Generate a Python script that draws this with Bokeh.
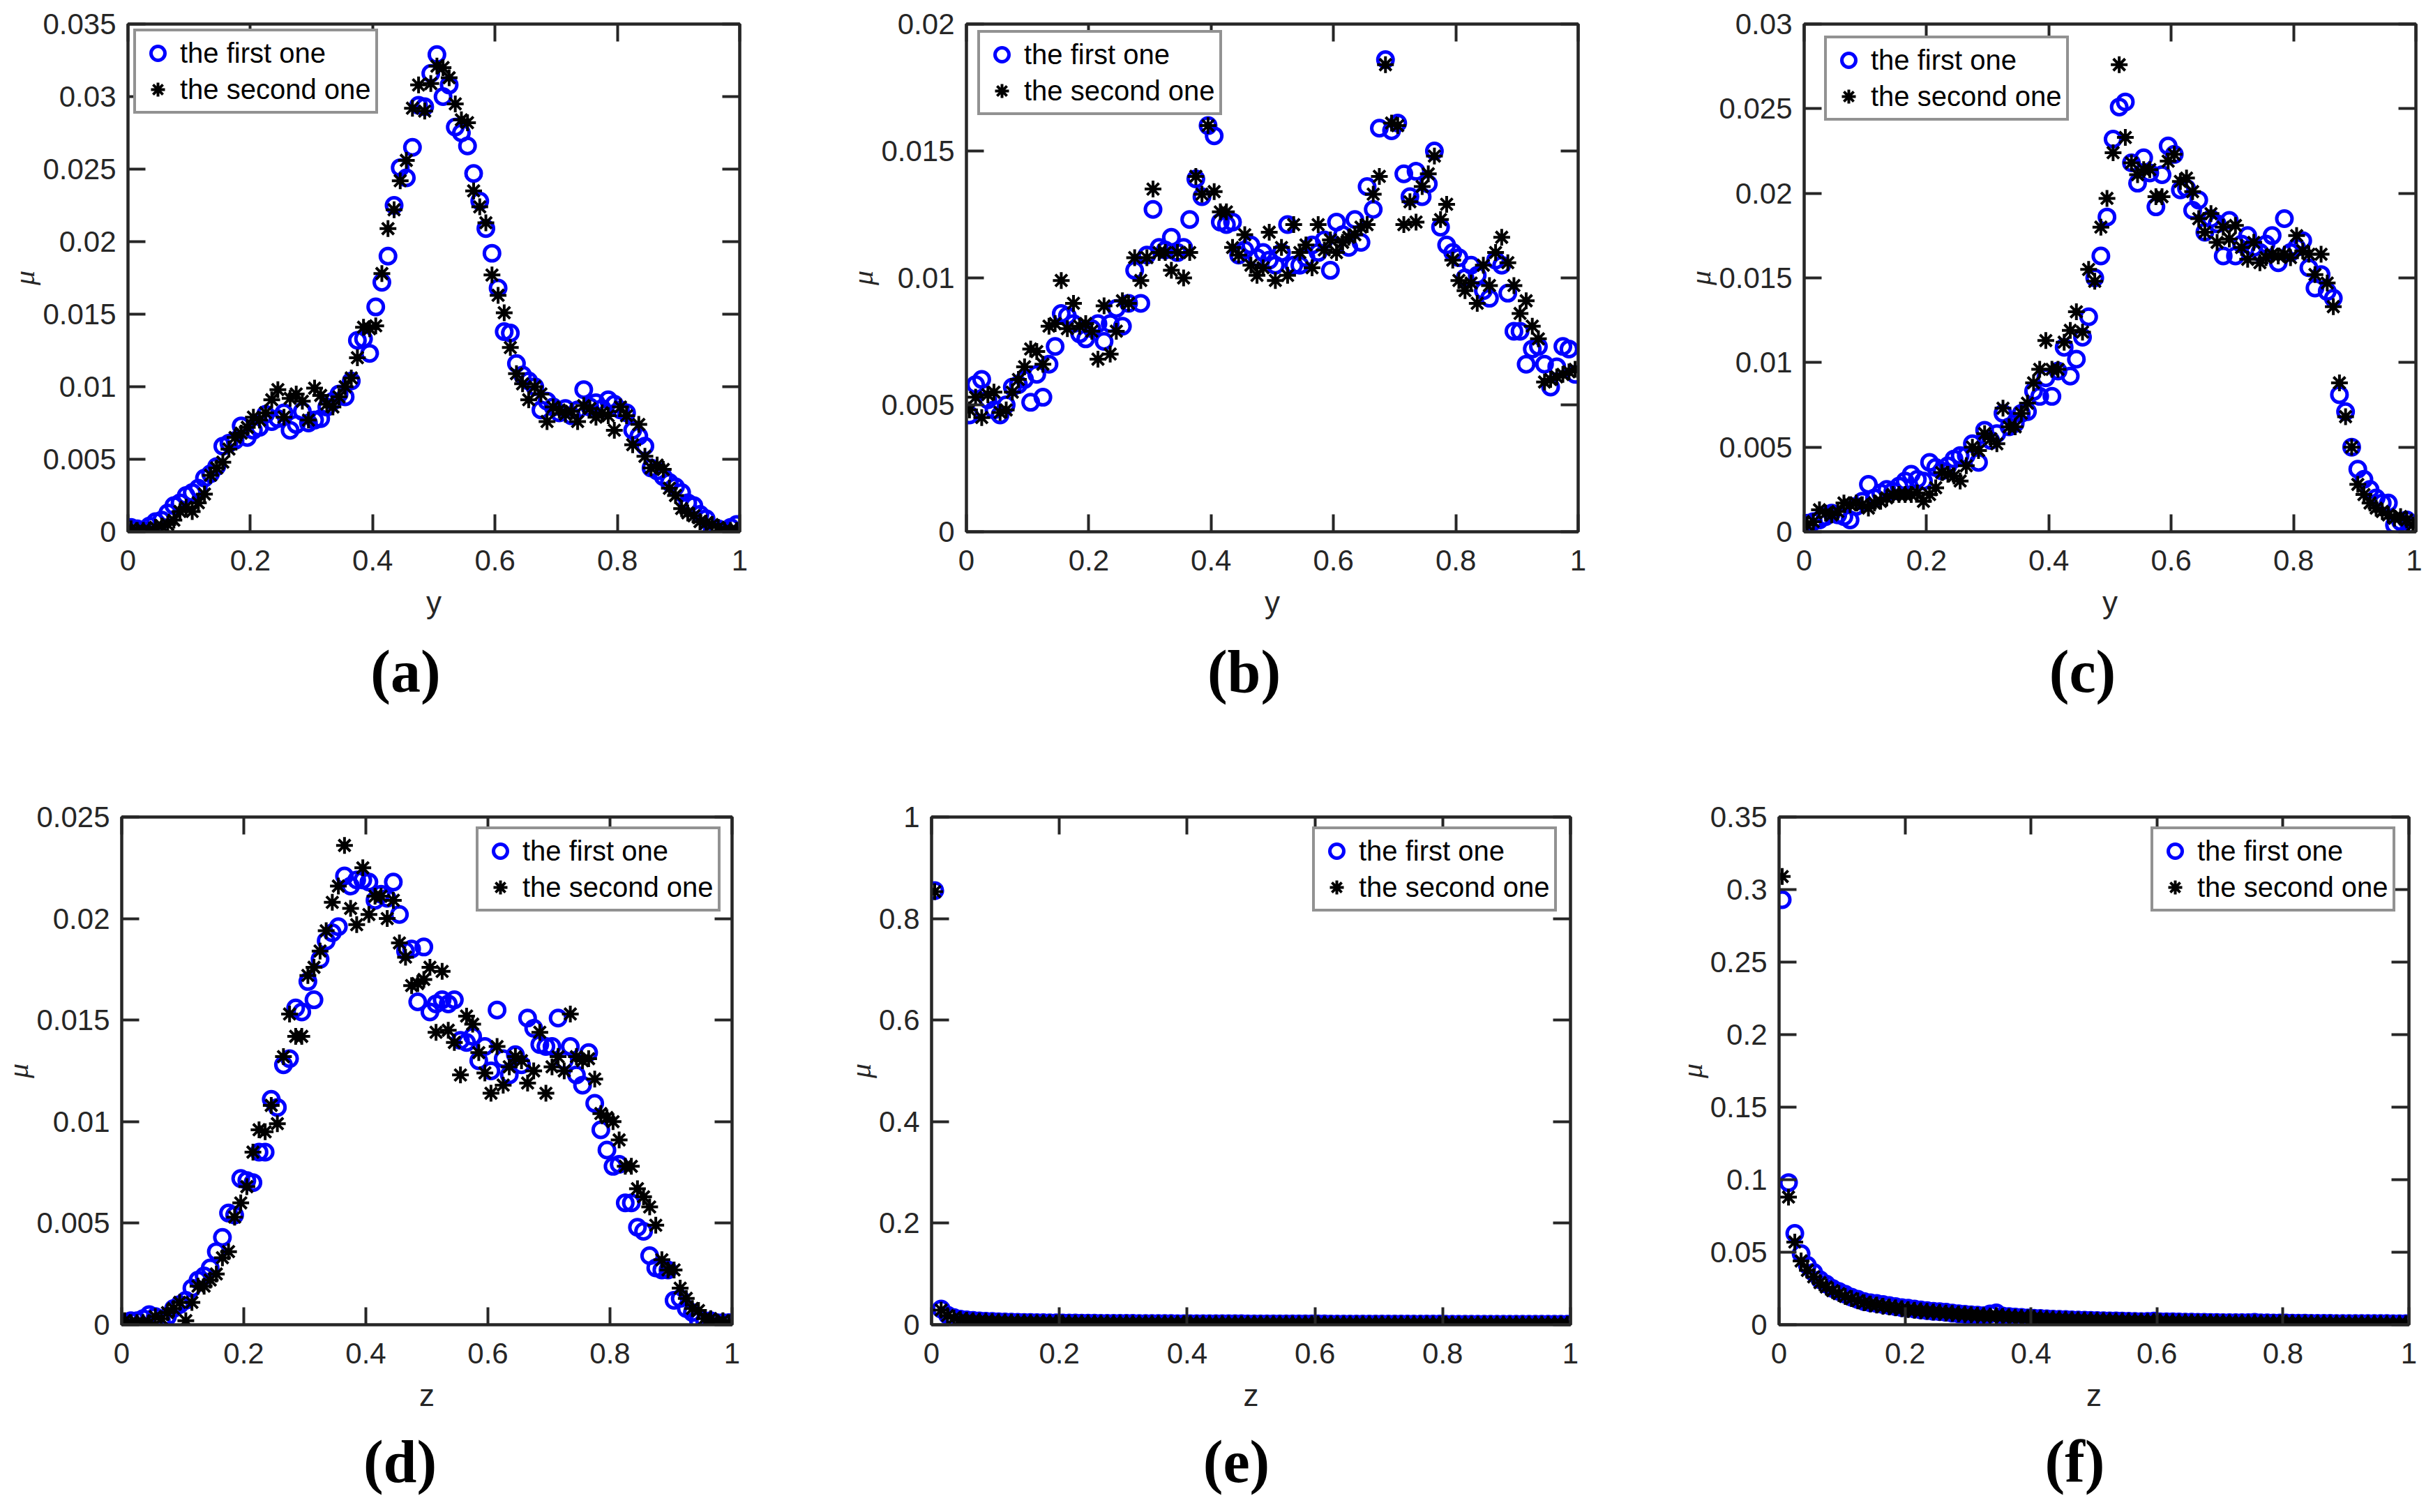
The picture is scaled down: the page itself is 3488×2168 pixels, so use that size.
from bokeh.plotting import figure
from bokeh.layouts import column, row
from bokeh.models import Range1d, FixedTicker, LinearAxis, Legend, LegendItem, Title
from bokeh.embed import file_html
from bokeh.resources import INLINE

# ---------------- data ----------------
N_POINTS = 100
X_GRID = [round(0.005 + 0.01 * i, 3) for i in range(N_POINTS)]

LABEL_FIRST = "the first one"
LABEL_SECOND = "the second one"

# (a)
A_FIRST = [0.0003, 0.0002, 0.0001, 0.0004, 0.0007, 0.0008, 0.0013, 0.0018, 0.0020, 0.0025,
           0.0027, 0.0030, 0.0037, 0.0040, 0.0045, 0.0059, 0.0061, 0.0063, 0.0073, 0.0065,
           0.0070, 0.0072, 0.0081, 0.0076, 0.0078, 0.0082, 0.0070, 0.0074, 0.0083, 0.0075,
           0.0077, 0.0078, 0.0086, 0.0090, 0.0095, 0.0093, 0.0104, 0.0132, 0.0133, 0.0123,
           0.0155, 0.0172, 0.0190, 0.0225, 0.0251, 0.0244, 0.0265, 0.0294, 0.0293, 0.0316,
           0.0329, 0.0300, 0.0308, 0.0279, 0.0275, 0.0266, 0.0247, 0.0228, 0.0209, 0.0192,
           0.0168, 0.0138, 0.0137, 0.0116, 0.0108, 0.0104, 0.0100, 0.0084, 0.0090, 0.0086,
           0.0082, 0.0085, 0.0080, 0.0084, 0.0098, 0.0086, 0.0089, 0.0085, 0.0091, 0.0088,
           0.0084, 0.0082, 0.0070, 0.0066, 0.0059, 0.0044, 0.0042, 0.0038, 0.0034, 0.0031,
           0.0027, 0.0020, 0.0018, 0.0012, 0.0009, 0.0001, 0.0002, 0.0001, 0.0003, 0.0005]
A_SECOND = [0.0002, 0.0001, 0.0001, 0.0001, 0.0003, 0.0004, 0.0005, 0.0008, 0.0014, 0.0017,
            0.0014, 0.0020, 0.0026, 0.0039, 0.0044, 0.0048, 0.0057, 0.0065, 0.0068, 0.0072,
            0.0079, 0.0077, 0.0082, 0.0091, 0.0098, 0.0079, 0.0092, 0.0095, 0.0090, 0.0077,
            0.0099, 0.0094, 0.0088, 0.0086, 0.0093, 0.0100, 0.0106, 0.0120, 0.0141, 0.0140,
            0.0142, 0.0178, 0.0209, 0.0222, 0.0242, 0.0256, 0.0292, 0.0308, 0.0290, 0.0309,
            0.0321, 0.0320, 0.0313, 0.0295, 0.0284, 0.0282, 0.0235, 0.0224, 0.0213, 0.0177,
            0.0163, 0.0151, 0.0127, 0.0109, 0.0102, 0.0091, 0.0100, 0.0095, 0.0076, 0.0086,
            0.0084, 0.0081, 0.0083, 0.0076, 0.0087, 0.0085, 0.0079, 0.0082, 0.0080, 0.0070,
            0.0086, 0.0080, 0.0060, 0.0074, 0.0052, 0.0044, 0.0046, 0.0043, 0.0030, 0.0025,
            0.0016, 0.0013, 0.0011, 0.0007, 0.0006, 0.0005, 0.0003, 0.0001, 0.0001, 0.0001]

# (b)
B_FIRST = [0.0046, 0.0058, 0.0060, 0.0052, 0.0048, 0.0046, 0.0050, 0.0057, 0.0058, 0.0060,
           0.0051, 0.0062, 0.0053, 0.0066, 0.0073, 0.0086, 0.0085, 0.0082, 0.0078, 0.0076,
           0.0080, 0.0082, 0.0075, 0.0082, 0.0088, 0.0081, 0.0090, 0.0103, 0.0090, 0.0109,
           0.0127, 0.0112, 0.0111, 0.0116, 0.0110, 0.0112, 0.0123, 0.0139, 0.0132, 0.0160,
           0.0156, 0.0122, 0.0121, 0.0122, 0.0109, 0.0111, 0.0113, 0.0108, 0.0110, 0.0107,
           0.0105, 0.0110, 0.0121, 0.0105, 0.0105, 0.0108, 0.0113, 0.0110, 0.0115, 0.0103,
           0.0122, 0.0117, 0.0112, 0.0123, 0.0114, 0.0136, 0.0127, 0.0159, 0.0186, 0.0158,
           0.0161, 0.0141, 0.0132, 0.0142, 0.0132, 0.0137, 0.0150, 0.0120, 0.0113, 0.0110,
           0.0108, 0.0100, 0.0105, 0.0101, 0.0095, 0.0092, 0.0107, 0.0105, 0.0094, 0.0079,
           0.0079, 0.0066, 0.0072, 0.0073, 0.0066, 0.0057, 0.0065, 0.0073, 0.0072, 0.0062]
B_SECOND = [0.0048, 0.0053, 0.0045, 0.0054, 0.0055, 0.0047, 0.0048, 0.0055, 0.0060, 0.0065,
            0.0072, 0.0071, 0.0066, 0.0081, 0.0082, 0.0099, 0.0080, 0.0090, 0.0081, 0.0082,
            0.0079, 0.0068, 0.0089, 0.0070, 0.0079, 0.0091, 0.0090, 0.0108, 0.0099, 0.0108,
            0.0135, 0.0110, 0.0110, 0.0103, 0.0110, 0.0100, 0.0110, 0.0140, 0.0133, 0.0160,
            0.0134, 0.0126, 0.0126, 0.0112, 0.0109, 0.0117, 0.0105, 0.0101, 0.0104, 0.0118,
            0.0099, 0.0112, 0.0101, 0.0121, 0.0110, 0.0113, 0.0104, 0.0121, 0.0111, 0.0115,
            0.0110, 0.0114, 0.0116, 0.0117, 0.0120, 0.0121, 0.0133, 0.0140, 0.0184, 0.0161,
            0.0160, 0.0121, 0.0130, 0.0122, 0.0136, 0.0141, 0.0148, 0.0123, 0.0129, 0.0107,
            0.0099, 0.0095, 0.0098, 0.0090, 0.0105, 0.0097, 0.0110, 0.0116, 0.0106, 0.0097,
            0.0086, 0.0091, 0.0081, 0.0076, 0.0059, 0.0060, 0.0061, 0.0062, 0.0063, 0.0064]

# (c)
C_FIRST = [0.0005, 0.0006, 0.0007, 0.0009, 0.0011, 0.0010, 0.0009, 0.0007, 0.0015, 0.0018,
           0.0028, 0.0020, 0.0023, 0.0025, 0.0024, 0.0027, 0.0030, 0.0034, 0.0031, 0.0030,
           0.0041, 0.0038, 0.0036, 0.0039, 0.0043, 0.0045, 0.0045, 0.0052, 0.0041, 0.0060,
           0.0054, 0.0058, 0.0070, 0.0062, 0.0064, 0.0070, 0.0071, 0.0083, 0.0080, 0.0091,
           0.0080, 0.0095, 0.0109, 0.0092, 0.0102, 0.0115, 0.0127, 0.0150, 0.0163, 0.0186,
           0.0232, 0.0251, 0.0254, 0.0218, 0.0206, 0.0221, 0.0212, 0.0192, 0.0211, 0.0228,
           0.0223, 0.0202, 0.0203, 0.0190, 0.0196, 0.0177, 0.0185, 0.0182, 0.0163, 0.0184,
           0.0163, 0.0170, 0.0175, 0.0168, 0.0165, 0.0170, 0.0175, 0.0159, 0.0185, 0.0165,
           0.0168, 0.0172, 0.0156, 0.0144, 0.0152, 0.0142, 0.0138, 0.0081, 0.0071, 0.0050,
           0.0037, 0.0031, 0.0025, 0.0020, 0.0017, 0.0017, 0.0004, 0.0006, 0.0007, 0.0004]
C_SECOND = [0.0004, 0.0006, 0.0013, 0.0011, 0.0010, 0.0012, 0.0017, 0.0016, 0.0017, 0.0016,
            0.0014, 0.0017, 0.0018, 0.0020, 0.0022, 0.0022, 0.0022, 0.0022, 0.0023, 0.0018,
            0.0022, 0.0026, 0.0035, 0.0034, 0.0033, 0.0030, 0.0039, 0.0050, 0.0048, 0.0058,
            0.0055, 0.0052, 0.0073, 0.0062, 0.0062, 0.0070, 0.0076, 0.0088, 0.0096, 0.0113,
            0.0096, 0.0096, 0.0112, 0.0119, 0.0130, 0.0118, 0.0155, 0.0148, 0.0180, 0.0197,
            0.0224, 0.0276, 0.0233, 0.0218, 0.0211, 0.0214, 0.0214, 0.0198, 0.0198, 0.0219,
            0.0223, 0.0207, 0.0209, 0.0201, 0.0185, 0.0177, 0.0188, 0.0171, 0.0180, 0.0173,
            0.0181, 0.0168, 0.0161, 0.0171, 0.0159, 0.0162, 0.0164, 0.0163, 0.0164, 0.0162,
            0.0175, 0.0166, 0.0164, 0.0152, 0.0164, 0.0147, 0.0133, 0.0088, 0.0068, 0.0050,
            0.0028, 0.0022, 0.0017, 0.0014, 0.0012, 0.0010, 0.0008, 0.0009, 0.0007, 0.0004]

# (d)
D_FIRST = [0.0001, 0.0002, 0.0002, 0.0003, 0.0005, 0.0004, 0.0002, 0.0004, 0.0008, 0.0010,
           0.0012, 0.0018, 0.0022, 0.0024, 0.0028, 0.0036, 0.0043, 0.0055, 0.0054, 0.0072,
           0.0071, 0.0070, 0.0085, 0.0085, 0.0111, 0.0107, 0.0128, 0.0131, 0.0156, 0.0154,
           0.0169, 0.0160, 0.0180, 0.0189, 0.0193, 0.0196, 0.0221, 0.0216, 0.0219, 0.0219,
           0.0218, 0.0209, 0.0212, 0.0210, 0.0218, 0.0202, 0.0184, 0.0185, 0.0159, 0.0186,
           0.0154, 0.0158, 0.0160, 0.0158, 0.0160, 0.0140, 0.0139, 0.0142, 0.0130, 0.0137,
           0.0125, 0.0155, 0.0131, 0.0123, 0.0133, 0.0128, 0.0151, 0.0146, 0.0138, 0.0137,
           0.0137, 0.0151, 0.0130, 0.0137, 0.0123, 0.0118, 0.0134, 0.0109, 0.0096, 0.0086,
           0.0078, 0.0079, 0.0060, 0.0060, 0.0048, 0.0046, 0.0034, 0.0028, 0.0027, 0.0027,
           0.0012, 0.0013, 0.0008, 0.0006, 0.0002, 0.0002, 0.0002, 0.0001, 0.0001, 0.0001]
D_SECOND = [0.0002, 0.0001, 0.0001, 0.0001, 0.0001, 0.0004, 0.0003, 0.0006, 0.0008, 0.0011,
            0.0002, 0.0011, 0.0019, 0.0019, 0.0022, 0.0025, 0.0033, 0.0036, 0.0053, 0.0060,
            0.0068, 0.0085, 0.0096, 0.0095, 0.0108, 0.0099, 0.0132, 0.0153, 0.0142, 0.0142,
            0.0172, 0.0176, 0.0184, 0.0194, 0.0208, 0.0216, 0.0236, 0.0205, 0.0197, 0.0225,
            0.0202, 0.0211, 0.0211, 0.0200, 0.0209, 0.0188, 0.0181, 0.0167, 0.0168, 0.0170,
            0.0176, 0.0144, 0.0174, 0.0145, 0.0139, 0.0123, 0.0152, 0.0148, 0.0134, 0.0124,
            0.0114, 0.0137, 0.0118, 0.0127, 0.0132, 0.0130, 0.0119, 0.0125, 0.0144, 0.0114,
            0.0127, 0.0132, 0.0125, 0.0153, 0.0132, 0.0130, 0.0131, 0.0121, 0.0104, 0.0102,
            0.0100, 0.0091, 0.0078, 0.0078, 0.0067, 0.0063, 0.0058, 0.0049, 0.0032, 0.0027,
            0.0027, 0.0018, 0.0013, 0.0008, 0.0007, 0.0003, 0.0003, 0.0001, 0.0002, 0.0001]

# (e)
E_FIRST = [0.855, 0.031, 0.019, 0.014, 0.011, 0.0095, 0.0085, 0.0076, 0.0070, 0.0065,
           0.0060, 0.0056, 0.0052, 0.0049, 0.0046, 0.0044, 0.0042, 0.0040, 0.0038, 0.0037,
           0.0035, 0.0034, 0.0033, 0.0032, 0.0031, 0.0030, 0.0029, 0.0029, 0.0028, 0.0027,
           0.0027, 0.0026, 0.0025, 0.0025, 0.0024, 0.0024, 0.0023, 0.0023, 0.0022, 0.0022,
           0.0021, 0.0021, 0.0021, 0.0020, 0.0020, 0.0020, 0.0019, 0.0019, 0.0019, 0.0018,
           0.0018, 0.0018, 0.0018, 0.0017, 0.0017, 0.0017, 0.0017, 0.0016, 0.0016, 0.0016,
           0.0016, 0.0016, 0.0015, 0.0015, 0.0015, 0.0015, 0.0015, 0.0014, 0.0014, 0.0014,
           0.0014, 0.0014, 0.0014, 0.0013, 0.0013, 0.0013, 0.0013, 0.0013, 0.0013, 0.0013,
           0.0012, 0.0012, 0.0012, 0.0012, 0.0012, 0.0012, 0.0012, 0.0012, 0.0011, 0.0011,
           0.0011, 0.0011, 0.0011, 0.0011, 0.0011, 0.0011, 0.0011, 0.0010, 0.0010, 0.0010]
E_SECOND = [0.853, 0.029, 0.018, 0.013, 0.0105, 0.0090, 0.0080, 0.0073, 0.0067, 0.0062,
            0.0058, 0.0054, 0.0050, 0.0047, 0.0045, 0.0043, 0.0041, 0.0039, 0.0037, 0.0036,
            0.0034, 0.0033, 0.0032, 0.0031, 0.0030, 0.0029, 0.0029, 0.0028, 0.0027, 0.0027,
            0.0026, 0.0025, 0.0025, 0.0024, 0.0024, 0.0023, 0.0023, 0.0022, 0.0022, 0.0021,
            0.0021, 0.0021, 0.0020, 0.0020, 0.0020, 0.0019, 0.0019, 0.0019, 0.0018, 0.0018,
            0.0018, 0.0018, 0.0017, 0.0017, 0.0017, 0.0017, 0.0016, 0.0016, 0.0016, 0.0016,
            0.0016, 0.0015, 0.0015, 0.0015, 0.0015, 0.0015, 0.0014, 0.0014, 0.0014, 0.0014,
            0.0014, 0.0014, 0.0013, 0.0013, 0.0013, 0.0013, 0.0013, 0.0013, 0.0013, 0.0012,
            0.0012, 0.0012, 0.0012, 0.0012, 0.0012, 0.0012, 0.0012, 0.0011, 0.0011, 0.0011,
            0.0011, 0.0011, 0.0011, 0.0011, 0.0011, 0.0011, 0.0010, 0.0010, 0.0010, 0.0010]

# (f)
F_FIRST = [0.293, 0.098, 0.063, 0.049, 0.041, 0.036, 0.031, 0.028, 0.025, 0.023,
           0.021, 0.019, 0.0175, 0.016, 0.0152, 0.0147, 0.0140, 0.0132, 0.0125, 0.0118,
           0.0114, 0.0108, 0.0102, 0.0097, 0.0093, 0.0090, 0.0086, 0.0080, 0.0076, 0.0072,
           0.0069, 0.0066, 0.0063, 0.0075, 0.0082, 0.0060, 0.0056, 0.0053, 0.0050, 0.0047,
           0.0045, 0.0043, 0.0041, 0.0039, 0.0037, 0.0036, 0.0034, 0.0033, 0.0031, 0.0030,
           0.0029, 0.0028, 0.0027, 0.0026, 0.0025, 0.0024, 0.0023, 0.0022, 0.0023, 0.0025,
           0.0021, 0.0020, 0.0020, 0.0019, 0.0018, 0.0018, 0.0017, 0.0017, 0.0016, 0.0016,
           0.0015, 0.0015, 0.0014, 0.0014, 0.0015, 0.0017, 0.0013, 0.0013, 0.0012, 0.0012,
           0.0012, 0.0011, 0.0011, 0.0011, 0.0010, 0.0010, 0.0010, 0.0010, 0.0009, 0.0009,
           0.0009, 0.0009, 0.0008, 0.0008, 0.0008, 0.0008, 0.0008, 0.0007, 0.0007, 0.0007]
F_SECOND = [0.309, 0.088, 0.057, 0.044, 0.0375, 0.033, 0.029, 0.026, 0.0235, 0.0215,
            0.0195, 0.018, 0.0165, 0.0152, 0.0143, 0.0136, 0.0128, 0.0122, 0.0116, 0.0110,
            0.0105, 0.0100, 0.0096, 0.0092, 0.0088, 0.0085, 0.0081, 0.0078, 0.0074, 0.0071,
            0.0068, 0.0065, 0.0062, 0.0060, 0.0063, 0.0058, 0.0055, 0.0052, 0.0050, 0.0048,
            0.0046, 0.0044, 0.0042, 0.0040, 0.0038, 0.0037, 0.0035, 0.0034, 0.0033, 0.0031,
            0.0030, 0.0029, 0.0028, 0.0027, 0.0026, 0.0025, 0.0024, 0.0024, 0.0023, 0.0022,
            0.0021, 0.0021, 0.0020, 0.0019, 0.0019, 0.0018, 0.0018, 0.0017, 0.0017, 0.0016,
            0.0016, 0.0015, 0.0015, 0.0014, 0.0014, 0.0014, 0.0013, 0.0013, 0.0013, 0.0012,
            0.0012, 0.0012, 0.0011, 0.0011, 0.0011, 0.0010, 0.0010, 0.0010, 0.0010, 0.0009,
            0.0009, 0.0009, 0.0009, 0.0008, 0.0008, 0.0008, 0.0008, 0.0007, 0.0007, 0.0007]

# ticks
X_TICKS = [0, 0.2, 0.4, 0.6, 0.8, 1]
X_TICK_LABELS = ["0", "0.2", "0.4", "0.6", "0.8", "1"]
Y_TICKS_A = [0, 0.005, 0.01, 0.015, 0.02, 0.025, 0.03, 0.035]
Y_LABELS_A = ["0", "0.005", "0.01", "0.015", "0.02", "0.025", "0.03", "0.035"]
Y_TICKS_B = [0, 0.005, 0.01, 0.015, 0.02]
Y_LABELS_B = ["0", "0.005", "0.01", "0.015", "0.02"]
Y_TICKS_C = [0, 0.005, 0.01, 0.015, 0.02, 0.025, 0.03]
Y_LABELS_C = ["0", "0.005", "0.01", "0.015", "0.02", "0.025", "0.03"]
Y_TICKS_D = [0, 0.005, 0.01, 0.015, 0.02, 0.025]
Y_LABELS_D = ["0", "0.005", "0.01", "0.015", "0.02", "0.025"]
Y_TICKS_E = [0, 0.2, 0.4, 0.6, 0.8, 1]
Y_LABELS_E = ["0", "0.2", "0.4", "0.6", "0.8", "1"]
Y_TICKS_F = [0, 0.05, 0.1, 0.15, 0.2, 0.25, 0.3, 0.35]
Y_LABELS_F = ["0", "0.05", "0.1", "0.15", "0.2", "0.25", "0.3", "0.35"]

X_LABELS = {"a": "y", "b": "y", "c": "y", "d": "z", "e": "z", "f": "z"}
Y_LABEL = "μ"
CAPTIONS = {"a": "(a)", "b": "(b)", "c": "(c)", "d": "(d)", "e": "(e)", "f": "(f)"}

# ---------------- layout / style ----------------
AX_COLOR = "#262626"
FRAME_H = 728
CAP_SIZE = 86
CAP_W = {"a": 0.5, "b": 0.556, "c": 0.444, "d": 0.556, "e": 0.444, "f": 0.333}

# key, series, ticks, ymax, width, height, left, right, top, legend(left, top),
# caption centre, caption standoff
SPECS = [
    ("a", A_FIRST, A_SECOND, Y_TICKS_A, Y_LABELS_A, 0.035, 1200, 1108, 183, 140, 34, (8, 15), 398, 45),
    ("b", B_FIRST, B_SECOND, Y_TICKS_B, Y_LABELS_B, 0.02, 1200, 1108, 185, 138, 34, (16, 17), 398, 45),
    ("c", C_FIRST, C_SECOND, Y_TICKS_C, Y_LABELS_C, 0.03, 1072, 1108, 186, 9, 34, (29, 25), 399, 45),
    ("d", D_FIRST, D_SECOND, Y_TICKS_D, Y_LABELS_D, 0.025, 1180, 1060, 171, 131, 63, (508, 22), 399, 36),
    ("e", E_FIRST, E_SECOND, Y_TICKS_E, Y_LABELS_E, 1.0, 1210, 1060, 155, 139, 63, (546, 22), 437, 36),
    ("f", F_FIRST, F_SECOND, Y_TICKS_F, Y_LABELS_F, 0.35, 1082, 1060, 160, 19, 63, (533, 22), 424, 36),
]

LEG_PAD = 6
LEG_ROW = 50
LEG_SPACING = 2
LEG_H = 2 * LEG_PAD + 2 * LEG_ROW + LEG_SPACING


def style_axis(ax, ticks, labels, show_labels=True):
    ax.ticker = FixedTicker(ticks=ticks)
    ax.major_tick_in = 25
    ax.major_tick_out = 0
    ax.minor_tick_in = 0
    ax.minor_tick_out = 0
    ax.major_tick_line_color = AX_COLOR
    ax.major_tick_line_width = 4
    ax.axis_line_color = AX_COLOR
    ax.axis_line_width = 4
    if show_labels:
        ax.major_label_overrides = {t: s for t, s in zip(ticks, labels)}
        ax.major_label_text_font = "Liberation Sans"
        ax.major_label_text_color = AX_COLOR
        ax.major_label_text_font_size = "42px"
    else:
        ax.major_label_text_color = None
        ax.major_label_text_font_size = "0px"
        ax.major_label_standoff = 0


def make_panel(spec):
    (key, s1, s2, yt, yl, ymax, W, H, L, R, T, leg, cap_c, cap_s) = spec
    B = H - T - FRAME_H
    p = figure(width=W, height=H, x_range=Range1d(0, 1), y_range=Range1d(0, ymax),
               output_backend="svg", toolbar_location=None,
               min_border_left=L, min_border_right=R, min_border_top=T, min_border_bottom=B)
    p.grid.visible = False
    p.outline_line_color = AX_COLOR
    p.outline_line_width = 4
    p.background_fill_color = "white"
    p.border_fill_color = "white"

    xa = p.xaxis[0]
    style_axis(xa, X_TICKS, X_TICK_LABELS)
    xa.major_label_standoff = 26
    xa.axis_label = X_LABELS[key]
    xa.axis_label_text_font = "Liberation Sans"
    xa.axis_label_text_font_style = "normal"
    xa.axis_label_text_font_size = "44px"
    xa.axis_label_text_color = AX_COLOR
    xa.axis_label_standoff = 18

    ya = p.yaxis[0]
    style_axis(ya, yt, yl)
    ya.major_label_standoff = 17
    ya.axis_label = Y_LABEL
    ya.axis_label_text_font = "Liberation Serif"
    ya.axis_label_text_font_style = "italic"
    ya.axis_label_text_font_size = "42px"
    ya.axis_label_text_color = AX_COLOR
    ya.axis_label_standoff = 0

    top = LinearAxis()
    style_axis(top, X_TICKS, X_TICK_LABELS, show_labels=False)
    p.add_layout(top, "above")
    right = LinearAxis()
    style_axis(right, yt, yl, show_labels=False)
    p.add_layout(right, "right")

    r1 = p.scatter(X_GRID, s1, marker="circle", size=22, fill_color=None,
                   line_color="#0000ff", line_width=5)
    r2 = p.scatter(X_GRID, s2, marker="asterisk", size=24, line_color="black",
                   line_width=4)

    lx, ltop = leg
    legend = Legend(items=[LegendItem(label=LABEL_FIRST, renderers=[r1]),
                           LegendItem(label=LABEL_SECOND, renderers=[r2])],
                    location=(lx, FRAME_H - ltop - LEG_H))
    legend.label_text_font = "Liberation Sans"
    legend.label_text_font_size = "40px"
    legend.label_text_color = "black"
    legend.border_line_color = AX_COLOR
    legend.border_line_width = 4
    legend.background_fill_color = "white"
    legend.background_fill_alpha = 1.0
    legend.padding = LEG_PAD
    legend.spacing = LEG_SPACING
    legend.glyph_width = 50
    legend.glyph_height = LEG_ROW
    legend.label_height = LEG_ROW
    legend.label_standoff = 7
    legend.margin = 0
    p.add_layout(legend)

    cap_w = (0.666 + CAP_W[key]) * CAP_SIZE
    cap = Title(text=CAPTIONS[key], align="left", offset=cap_c - cap_w / 2,
                text_font="Liberation Serif", text_font_style="bold",
                text_font_size=f"{CAP_SIZE}px", text_color="black", standoff=cap_s)
    p.add_layout(cap, "below")
    return p


panels = [make_panel(s) for s in SPECS]
layout = column(row(*panels[:3]), row(*panels[3:]))

open("out.html", "w").write(file_html(layout, INLINE))
